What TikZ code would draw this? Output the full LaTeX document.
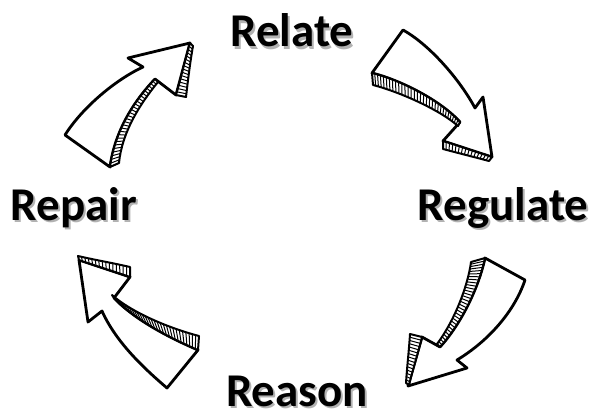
\documentclass[tikz,border=0pt]{standalone}
\usepackage{fontspec}
\setmainfont{Carlito}
\usetikzlibrary{calc}
\tikzset{
  word/.style={font=\fontsize{47}{52}\selectfont\bfseries, anchor=base, inner sep=0pt},
  face/.style={draw=black, fill=white, line width=2.8pt, line join=round},
  band/.style={draw=black, fill=white, line width=2pt, line join=round},
  hatch/.style={draw=black, line width=1pt}
}
% word with a soft grey shadow
\newcommand\shadowed[1]{\makebox[0pt][l]{\hspace{2pt}\raisebox{-2pt}{\color{black!30}#1}}#1}
% hatched edge of a ribbon, between two curves
\newcommand\hatchband[9]{%
  \filldraw[band] #1 .. controls #2 and #3 .. #4 -- #8 .. controls #7 and #6 .. #5 -- cycle;
  \foreach \k in {1,...,#9}{
    \pgfmathsetmacro\hpos{\k/(#9+1)}
    \path #1 .. controls #2 and #3 .. #4 coordinate[pos=\hpos] (ha);
    \path #5 .. controls #6 and #7 .. #8 coordinate[pos=\hpos] (hb);
    \draw[hatch] (ha) -- (hb);
  }
}

\begin{document}
\begin{tikzpicture}[x=1pt, y=-1pt]
\useasboundingbox (0,0) rectangle (599,412);

\node[word] (relate) at (292,47) {\shadowed{Relate}};
\node[word] (regulate) at (503,220) {\shadowed{Regulate}};
\node[word] (reason) at (297,406) {\shadowed{Reason}};
\node[word] (repair) at (74,220) {\shadowed{Repair}};

% repair -> relate
\filldraw[face] (65,135) .. controls (82,108) and (115,80) .. (143,67) -- (128,58) -- (190,43)
  -- (176,95) -- (155,79) .. controls (135,100) and (115,130) .. (110,167) -- cycle;
\hatchband{(155,79)}{(135,100)}{(115,130)}{(110,167)}{(158,82)}{(140,104)}{(122,132)}{(119,163)}{28}
\hatchband{(190,43)}{(185,60)}{(181,78)}{(176,95)}{(193,46)}{(190,63)}{(188,80)}{(186,97)}{15}

% relate -> regulate
\filldraw[face] (403,30) .. controls (430,45) and (460,80) .. (475,108) -- (483,97) -- (492,157)
  -- (443,141) -- (460,122) .. controls (440,100) and (400,80) .. (372,73) -- cycle;
\hatchband{(372,73)}{(400,80)}{(440,100)}{(460,122)}{(373,85)}{(400,92)}{(440,110)}{(458,126)}{30}
\hatchband{(443,141)}{(459,146)}{(476,152)}{(492,157)}{(443,149)}{(458,153)}{(474,157)}{(489,161)}{14}

% regulate -> reason
\filldraw[face] (485,258) -- (525,280) .. controls (515,310) and (490,340) .. (457,360) -- (467,368)
  -- (408,386) -- (422,337) -- (440,347) .. controls (460,325) and (478,290) .. (485,258) -- cycle;
\hatchband{(440,347)}{(460,325)}{(478,290)}{(485,258)}{(437,344)}{(455,320)}{(468,285)}{(471,262)}{30}
\hatchband{(422,337)}{(418,353)}{(413,369)}{(409,385)}{(410,334)}{(409,350)}{(407,367)}{(406,383)}{14}

% reason -> repair
\filldraw[face] (167,388) .. controls (140,365) and (115,340) .. (102,311) -- (88,322) -- (79,260)
  -- (130,277) -- (114,298) .. controls (135,320) and (170,338) .. (198,350) -- cycle;
\hatchband{(114,298)}{(135,320)}{(170,338)}{(198,350)}{(112,295)}{(130,311)}{(165,327)}{(199,336)}{30}
\hatchband{(79,260)}{(96,266)}{(113,271)}{(130,277)}{(78,256)}{(95,260)}{(113,263)}{(130,267)}{14}

\end{tikzpicture}
\end{document}
